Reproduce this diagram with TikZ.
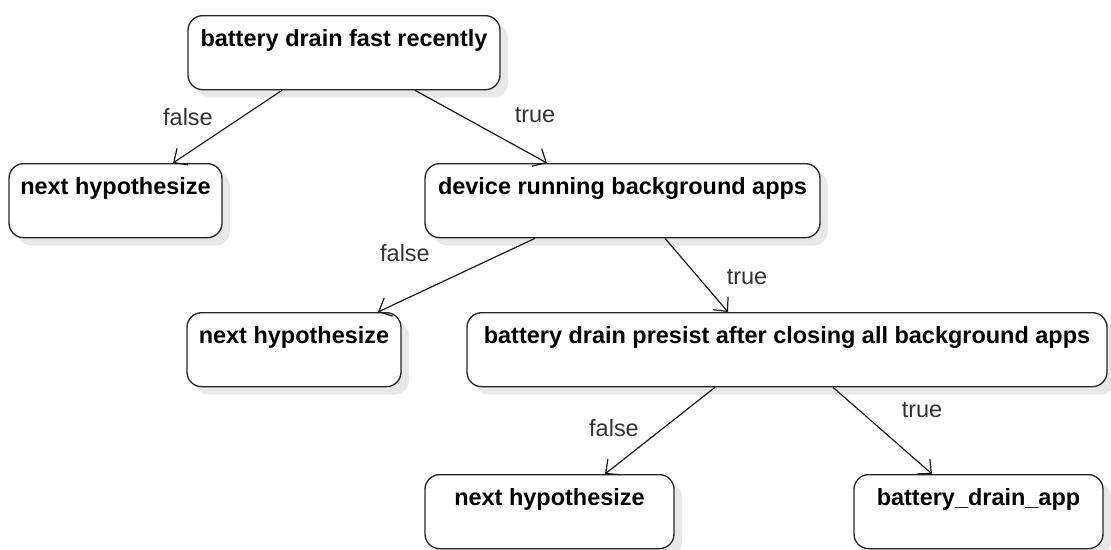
\documentclass[tikz,border=0pt]{standalone}
\usepackage{fontspec}
\setmainfont{Liberation Sans}
\usetikzlibrary{arrows.meta,shadows,calc}
\tikzset{
    box/.style={
           rectangle, rounded corners=11pt,
           draw=black!85, line width=1pt,
           fill=white,
           drop shadow={shadow xshift=6pt, shadow yshift=-6pt, fill=black!9, opacity=1},
           inner sep=0pt, anchor=north,
           minimum height=55.5pt,
           text height=23.25pt, text depth=32.25pt,
           font=\fontsize{17.6}{20}\selectfont\bfseries,
           },
    edge/.style={-{Straight Barb[length=8pt,width=15pt]}, line width=0.9pt, black!90},
    lbl/.style={font=\fontsize{17.6}{20}\selectfont, text=black!80, inner sep=0pt},
}
\begin{document}
\begin{tikzpicture}[x=0.75pt,y=-0.75pt]
\useasboundingbox (0,0) rectangle (1111,550);
\node[box, minimum width=234pt] (fast) at (344,15) {battery drain fast recently};
\node[box, minimum width=159.75pt] (nhA) at (115.5,163) {next hypothesize};
\node[box, minimum width=296.25pt] (bgapps) at (622.5,163) {device running background apps};
\node[box, minimum width=160.5pt] (nhB) at (294,312) {next hypothesize};
\node[box, minimum width=480pt] (persist) at (787,312) {battery drain presist after closing all background apps};
\node[box, minimum width=186.75pt] (nhC) at (549.5,474) {next hypothesize};
\node[box, minimum width=186.75pt] (app) at (978.5,474) {battery\_drain\_app};
\draw[edge] ($(fast.south)+(-62,0)$) -- ($(nhA.north)+(57.5,0)$);
\draw[edge] ($(fast.south)+(71,0)$) -- ($(bgapps.north)+(-75.5,0)$);
\draw[edge] ($(bgapps.south)+(-87.5,0)$) -- ($(nhB.north)+(84,0)$);
\draw[edge] ($(bgapps.south)+(42.5,0)$) -- ($(persist.north)+(-59,0)$);
\draw[edge] ($(persist.south)+(-72,0)$) -- ($(nhC.north)+(55.5,0)$);
\draw[edge] ($(persist.south)+(46,0)$) -- ($(app.north)+(-46.5,0)$);
\node[lbl] (fA) at (188,117) {false};
\node[lbl] (tA) at (535,115) {true};
\node[lbl] (fB) at (405,253) {false};
\node[lbl] (tB) at (747,277) {true};
\node[lbl] (fC) at (614,428) {false};
\node[lbl] (tC) at (922,410) {true};
\end{tikzpicture}
\end{document}
